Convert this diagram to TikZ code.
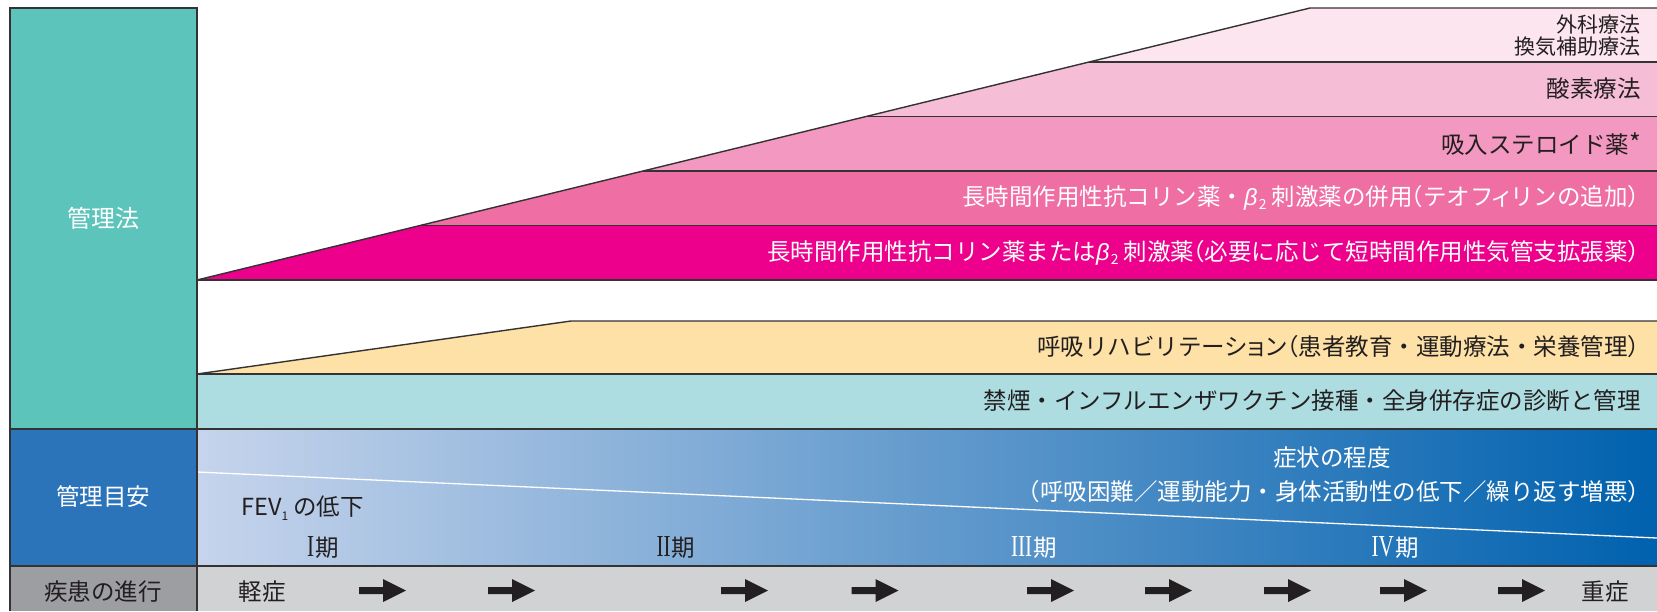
\documentclass[tikz,border=0pt]{standalone}
\usepackage{fontspec}
\setmainfont{Noto Sans CJK JP}
\newfontfamily\latinsans{Liberation Sans}
\newfontfamily\latinserif{Liberation Serif}
\definecolor{tealbox}{HTML}{5CC4BB}
\definecolor{lightteal}{HTML}{ADDDE1}
\definecolor{orangeband}{HTML}{FDE1A6}
\definecolor{pinkA}{HTML}{FCE5EF}
\definecolor{pinkB}{HTML}{F6BED6}
\definecolor{pinkC}{HTML}{F398C0}
\definecolor{pinkD}{HTML}{EF6EA4}
\definecolor{pinkE}{HTML}{EC008C}
\definecolor{bluebox}{HTML}{2C74B9}
\definecolor{blueleft}{HTML}{C6D4EC}
\definecolor{bluemid}{HTML}{7B9DD1}
\definecolor{blueright}{HTML}{0061AE}
\definecolor{grayleft}{HTML}{9D9EA2}
\definecolor{grayright}{HTML}{D1D2D4}
\definecolor{darktext}{HTML}{231F20}
\definecolor{rule}{HTML}{333333}
\newcommand\lbr{\kern-0.55em （}
\newcommand\rbr{）\kern-0.45em}
\newcommand\smallk[1]{\kern-0.15em#1\kern-0.15em}
\newcommand\btwo{{\latinsans\itshape β}\kern0.05em\raisebox{-0.15em}{\fontsize{14}{14}\selectfont 2}}
\newcommand\stagenum[1]{\scalebox{0.9}[1.3]{\latinserif #1}\kern0.05em}
\tikzset{
  lbl/.style={inner sep=0pt, font=\fontsize{23.5}{28}\selectfont, text=darktext},
  wlbl/.style={lbl, text=white},
  edge/.style={draw=rule, line width=1.4pt},
  fwd/.pic={\fill[darktext] (-23.5,-3.5) -- (0.5,-3.5) -- (0.5,-11.5) -- (23.5,0) -- (0.5,11.5) -- (0.5,3.5) -- (-23.5,3.5) -- cycle;}
}
\begin{document}
\begin{tikzpicture}[x=1pt,y=-1pt]
\useasboundingbox (0,0) rectangle (1657,611);
% coordinates
\coordinate (slopeA) at (197,280);
\coordinate (slopeB) at (1310,8);
\coordinate (orA) at (197,374);
\coordinate (orB) at (571,321);
% left column
\fill[tealbox] (10,8) rectangle (197,429);
\fill[bluebox] (10,429) rectangle (197,566);
\fill[grayleft] (10,566) rectangle (197,611);
% pink bands clipped under slope
\begin{scope}
  \clip (slopeA) -- (slopeB) -- (1657,8) -- (1657,280) -- cycle;
  \fill[pinkA] (197,8) rectangle (1657,62);
  \fill[pinkB] (197,62) rectangle (1657,116.5);
  \fill[pinkC] (197,116.5) rectangle (1657,171);
  \fill[pinkD] (197,171) rectangle (1657,225.5);
  \fill[pinkE] (197,225.5) rectangle (1657,280);
  \foreach \yy in {62,116.5,171,225.5} \draw[edge] (197,\yy) -- (1657,\yy);
\end{scope}
\draw[edge] (slopeA) -- (slopeB) -- (1657,8);
\draw[edge] (197,280) -- (1657,280);
% orange and light teal
\fill[orangeband] (orA) -- (orB) -- (1657,321) -- (1657,374) -- cycle;
\fill[lightteal] (197,374) rectangle (1657,429);
\draw[edge] (orA) -- (orB) -- (1657,321);
\draw[edge] (197,374) -- (1657,374);
% blue gradient row
\shade[left color=blueleft, middle color=bluemid, right color=blueright] (197,429) rectangle (1657,566);
\draw[white, line width=1.3pt] (197,472) -- (1657,538);
% gray row
\fill[grayright] (197,566) rectangle (1657,611);
% rules
\draw[edge] (10,429) -- (1657,429);
\draw[edge] (10,566) -- (1657,566);
\draw[edge] (10,611) -- (10,8) -- (197,8) -- (197,611);
% left labels
\node[wlbl, font=\fontsize{24}{28}\selectfont] (kanri) at (103,218) {管理法};
\node[wlbl] (meyasu) at (103,497) {管理目安};
\node[lbl] (shinko) at (103,592) {疾患の進行};
% band texts
\node[lbl, anchor=east, align=right, font=\fontsize{21}{22}\selectfont] (geka) at (1641,36) {外科療法\\換気補助療法};
\node[lbl, anchor=east] (sanso) at (1641,89) {酸素療法};
\node[lbl, anchor=east] (steroid) at (1641,144) {吸入ステロイド薬\raisebox{0.08em}{\fontsize{25}{25}\selectfont *}};
\node[wlbl, anchor=east] (heiyo) at (1641,198) {長時間作用性抗コリン薬・\btwo\ 刺激薬の併用\lbr テオフ\smallk{ィ}リンの追加\rbr};
\node[wlbl, anchor=east] (tandoku) at (1641,253) {長時間作用性抗コリン薬または\btwo\ 刺激薬\lbr 必要に応じて短時間作用性気管支拡張薬\rbr};
\node[lbl, anchor=east] (rehab) at (1641,347) {呼吸リハビリテーシ\smallk{ョ}ン\lbr 患者教育・運動療法・栄養管理\rbr};
\node[lbl, anchor=east] (kinen) at (1641,401) {禁煙・インフルエンザワクチン接種・全身併存症の診断と管理};
% blue row texts
\node[wlbl] (shojo) at (1332,458) {症状の程度};
\node[wlbl, anchor=east] (shojo2) at (1641,492) {\lbr 呼吸困難／運動能力・身体活動性の低下／繰り返す増悪\rbr};
\node[lbl, anchor=west] (fev) at (241,508) {FEV\raisebox{-0.2em}{\fontsize{12}{12}\selectfont 1} の低下};
\node[lbl] (st1) at (323,547) {\stagenum{I}期};
\node[lbl] (st2) at (676,547) {\stagenum{II}期};
\node[wlbl] (st3) at (1034,547) {\stagenum{III}期};
\node[wlbl] (st4) at (1395,547) {\stagenum{IV}期};
% progression row
\node[lbl] (mild) at (262,592) {軽症};
\node[lbl] (severe) at (1605,592) {重症};
\foreach \xx in {382.5,511.5,744.5,875,1050.5,1168.5,1287.5,1403.5,1521.5}
  \pic at (\xx,590.5) {fwd};
\end{tikzpicture}
\end{document}
